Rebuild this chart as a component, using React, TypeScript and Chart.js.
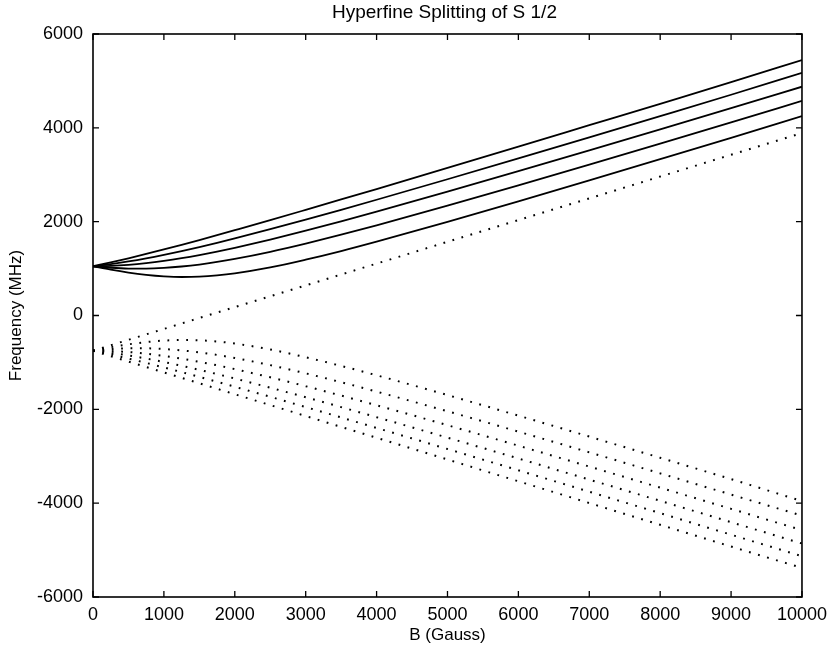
import React, { useEffect, useRef } from "react";
import { Chart, registerables } from "chart.js";

Chart.register(...registerables);

const TITLE = "Hyperfine Splitting of S 1/2";
const X_LABEL = "B (Gauss)";
const Y_LABEL = "Frequency (MHz)";

// Magnetic field (Gauss) at which the levels are read
const FIELD_GAUSS = [0, 250, 500, 750, 1000, 1250, 1500, 1750, 2000, 2500, 3000, 3500, 4000, 5000, 6000, 7000, 8000, 9000, 10000];

// Upper hyperfine manifold (solid lines), MHz
const UPPER_M_NEG2 = [1050, 977, 915, 867, 835, 821, 828, 854, 897, 1024, 1190, 1374, 1574, 1996, 2434, 2881, 3333, 3788, 4250];
const UPPER_M_NEG1 = [1050, 1018, 1001, 1000, 1014, 1044, 1086, 1141, 1206, 1358, 1533, 1722, 1922, 2341, 2775, 3217, 3665, 4117, 4574];
const UPPER_M_0 = [1050, 1057, 1079, 1115, 1163, 1221, 1288, 1362, 1443, 1618, 1807, 2007, 2212, 2638, 3075, 3520, 3969, 4421, 4876];
const UPPER_M_1 = [1050, 1095, 1152, 1218, 1292, 1372, 1458, 1549, 1643, 1839, 2043, 2253, 2467, 2904, 3348, 3798, 4250, 4705, 5170];
const UPPER_M_2 = [1050, 1131, 1219, 1311, 1408, 1507, 1609, 1713, 1819, 2033, 2252, 2473, 2696, 3146, 3599, 4056, 4513, 4972, 5445];

// Lower hyperfine manifold (dotted lines), MHz
const LOWER_RISING = [-750, -634, -518, -402, -286, -170, -54, 62, 178, 410, 642, 874, 1106, 1570, 2034, 2497, 2961, 3425, 3889];
const LOWER_M_NEG2 = [-750, -677, -615, -567, -535, -521, -528, -554, -597, -724, -890, -1074, -1274, -1696, -2134, -2581, -3033, -3488, -3955];
const LOWER_M_NEG1 = [-750, -718, -701, -700, -714, -744, -786, -841, -906, -1058, -1233, -1422, -1622, -2041, -2475, -2917, -3365, -3817, -4265];
const LOWER_M_0 = [-750, -757, -779, -815, -863, -921, -988, -1062, -1143, -1318, -1507, -1707, -1912, -2338, -2775, -3220, -3669, -4121, -4576];
const LOWER_M_1 = [-750, -795, -852, -918, -992, -1072, -1158, -1249, -1343, -1539, -1743, -1953, -2167, -2604, -3048, -3498, -3950, -4405, -4860];
const LOWER_M_2 = [-750, -831, -919, -1011, -1108, -1207, -1309, -1413, -1519, -1733, -1952, -2173, -2396, -2846, -3299, -3756, -4213, -4672, -5131];
const LOWER_M_3 = [-750, -866, -982, -1098, -1214, -1330, -1446, -1562, -1678, -1910, -2142, -2374, -2606, -3070, -3534, -3997, -4461, -4925, -5380];

const X_MIN = 0;
const X_MAX = 10000;
const X_STEP = 1000;
const Y_MIN = -6000;
const Y_MAX = 6000;
const Y_STEP = 2000;

const FONT = "'Liberation Sans', Arial, Helvetica, sans-serif";

const boxPlugin = {
  id: "matlabBox",
  afterDraw(chart: any) {
    const ctx = chart.ctx;
    const { left, right, top, bottom } = chart.chartArea;
    const xs = chart.scales.x;
    const ys = chart.scales.y;
    ctx.save();
    ctx.strokeStyle = "#000";
    ctx.lineWidth = 1.6;
    ctx.strokeRect(left, top, right - left, bottom - top);
    ctx.lineWidth = 1.3;
    const tl = 6;
    ctx.beginPath();
    xs.ticks.forEach((t: any) => {
      const px = xs.getPixelForValue(t.value);
      ctx.moveTo(px, bottom);
      ctx.lineTo(px, bottom - tl);
      ctx.moveTo(px, top);
      ctx.lineTo(px, top + tl);
    });
    ys.ticks.forEach((t: any) => {
      const py = ys.getPixelForValue(t.value);
      ctx.moveTo(left, py);
      ctx.lineTo(left + tl, py);
      ctx.moveTo(right, py);
      ctx.lineTo(right - tl, py);
    });
    ctx.stroke();
    // title
    ctx.fillStyle = "#000";
    ctx.font = `19px ${FONT}`;
    ctx.textAlign = "center";
    ctx.textBaseline = "alphabetic";
    ctx.fillText(TITLE, (left + right) / 2 - 3, 18);
    ctx.restore();
  },
};

export default function App() {
  const canvasRef = useRef<HTMLCanvasElement>(null);

  useEffect(() => {
    const canvas = canvasRef.current;
    if (!canvas) return;

    const toPoints = (vals: number[]) => FIELD_GAUSS.map((b, i) => ({ x: b, y: vals[i] }));
    const solid = (label: string, vals: number[]) => ({
      label,
      data: toPoints(vals),
      borderColor: "#000",
      borderWidth: 1.8,
      pointRadius: 0,
      fill: false,
      cubicInterpolationMode: "monotone" as const,
    });
    const dotted = (label: string, vals: number[]) => ({
      label,
      data: toPoints(vals),
      borderColor: "#000",
      borderWidth: 2,
      borderDash: [1.8, 7.6],
      pointRadius: 0,
      fill: false,
      cubicInterpolationMode: "monotone" as const,
    });

    const chart = new Chart(canvas, {
      type: "line",
      data: {
        datasets: [
          solid("upper m=-2", UPPER_M_NEG2),
          solid("upper m=-1", UPPER_M_NEG1),
          solid("upper m=0", UPPER_M_0),
          solid("upper m=1", UPPER_M_1),
          solid("upper m=2", UPPER_M_2),
          dotted("lower rising", LOWER_RISING),
          dotted("lower m=-2", LOWER_M_NEG2),
          dotted("lower m=-1", LOWER_M_NEG1),
          dotted("lower m=0", LOWER_M_0),
          dotted("lower m=1", LOWER_M_1),
          dotted("lower m=2", LOWER_M_2),
          dotted("lower m=3", LOWER_M_3),
        ],
      },
      options: {
        animation: false,
        responsive: false,
        devicePixelRatio: 1,
        layout: { padding: { top: 34, right: 30, left: 0, bottom: 0 } },
        plugins: {
          legend: { display: false },
          tooltip: { enabled: false },
          title: { display: false },
        },
        scales: {
          x: {
            type: "linear",
            min: X_MIN,
            max: X_MAX,
            grid: { display: false, drawTicks: false, tickLength: 0 },
            border: { display: false },
            ticks: {
              stepSize: X_STEP,
              color: "#000",
              padding: 7,
              maxRotation: 0,
              font: { family: FONT, size: 18 },
              callback: (v: any) => String(v),
            },
            title: {
              display: true,
              text: X_LABEL,
              color: "#000",
              font: { family: FONT, size: 17 },
              padding: { top: 0, bottom: 8 },
            },
            afterFit: (scale: any) => {
              scale.height = 57;
            },
          },
          y: {
            type: "linear",
            min: Y_MIN,
            max: Y_MAX,
            grid: { display: false, drawTicks: false, tickLength: 0 },
            border: { display: false },
            ticks: {
              stepSize: Y_STEP,
              color: "#000",
              padding: 10,
              font: { family: FONT, size: 18 },
              callback: (v: any) => String(v),
            },
            title: {
              display: true,
              text: Y_LABEL,
              color: "#000",
              font: { family: FONT, size: 17 },
              padding: { top: 6, bottom: 0 },
            },
            afterFit: (scale: any) => {
              scale.width = 93;
            },
          },
        },
      },
      plugins: [boxPlugin],
    });

    return () => chart.destroy();
  }, []);

  return (
    <div style={{ position: "absolute", left: 0, top: 0, width: 834, height: 654, background: "#fff" }}>
      <canvas ref={canvasRef} width={834} height={654} style={{ display: "block" }} />
    </div>
  );
}
